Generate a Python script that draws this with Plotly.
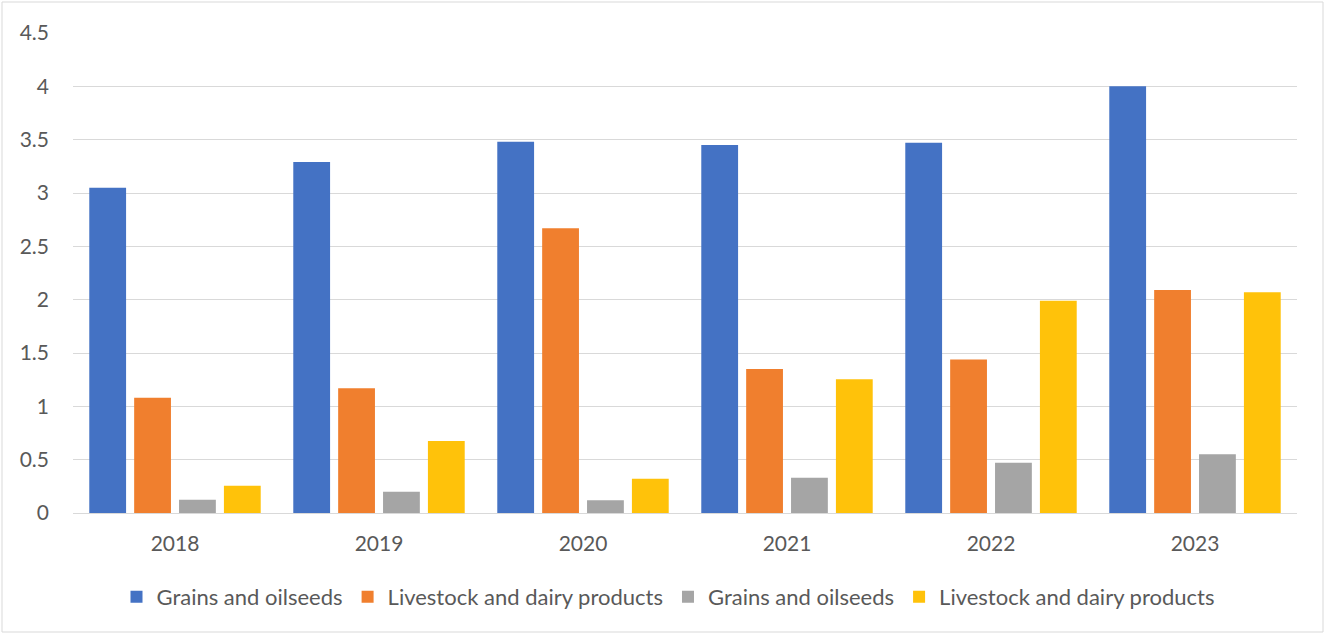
import plotly.graph_objects as go

years = ["2018", "2019", "2020", "2021", "2022", "2023"]
series_names = ["Grains and oilseeds", "Livestock and dairy products",
                "Grains and oilseeds", "Livestock and dairy products"]
blue_vals = [3.05, 3.29, 3.48, 3.45, 3.47, 4.0]
orange_vals = [1.08, 1.17, 2.67, 1.35, 1.44, 2.09]
gray_vals = [0.125, 0.20, 0.12, 0.33, 0.47, 0.55]
yellow_vals = [0.255, 0.675, 0.32, 1.255, 1.99, 2.07]
colors = ["#4472C4", "#F07F2E", "#A5A5A5", "#FFC20A"]
tick_vals = [0, 0.5, 1, 1.5, 2, 2.5, 3, 3.5, 4, 4.5]
tick_text = ["0", "0.5", "1", "1.5", "2", "2.5", "3", "3.5", "4", "4.5"]

W, H = 1325, 634
ml, mr, mt, mb = 73, 28, 33, 121
pw = W - ml - mr
ph = H - mt - mb

fig = go.Figure()
for name, vals, col in zip(series_names, [blue_vals, orange_vals, gray_vals, yellow_vals], colors):
    fig.add_trace(go.Bar(x=years, y=vals, name=name, marker=dict(color=col, line=dict(width=0))))

font_family = "Lato, Liberation Sans, sans-serif"
fig.update_layout(
    width=W, height=H,
    margin=dict(l=ml, r=mr, t=mt, b=mb),
    paper_bgcolor="white", plot_bgcolor="white",
    barmode="group", bargap=0.12, bargroupgap=0.18,
    font=dict(family=font_family, size=21, color="#595959"),
    showlegend=True,
    legend=dict(orientation="h", x=(668 - ml) / pw, xanchor="center",
                y=(513 - 597) / ph, yanchor="middle",
                font=dict(size=22, color="#595959"),
                itemsizing="constant", traceorder="normal"),
    xaxis=dict(showgrid=False, showline=True, linecolor="#D9D9D9", linewidth=1,
               ticks="", tickfont=dict(size=21, color="#595959"), ticklabelstandoff=12),
    yaxis=dict(range=[0, 4.5], tickvals=tick_vals, ticktext=tick_text,
               showgrid=True, gridcolor="#D9D9D9", gridwidth=1,
               zeroline=True, zerolinecolor="#D9D9D9", zerolinewidth=1,
               showline=False, ticks="", tickfont=dict(size=21, color="#595959"),
               ticklabelstandoff=23),
    shapes=[dict(type="rect", xref="paper", yref="paper",
                 x0=(2 - ml) / pw, x1=(1323 - ml) / pw,
                 y0=(513 - 632) / ph, y1=(513 - 2) / ph,
                 line=dict(color="#D9D9D9", width=1), fillcolor="rgba(0,0,0,0)", layer="below")],
)
fig.write_html("out.html")
